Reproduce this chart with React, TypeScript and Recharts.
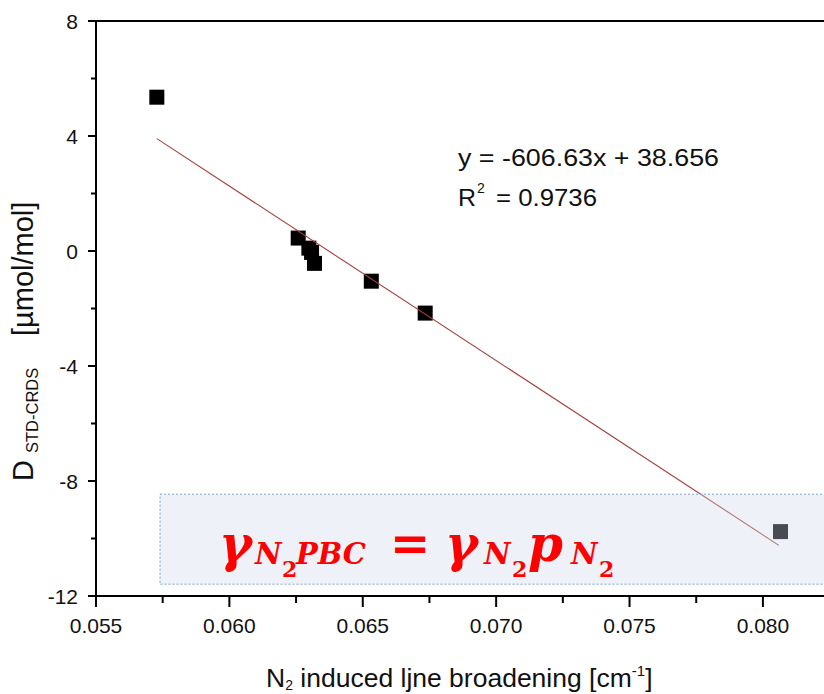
import React from 'react';
import {
  ScatterChart,
  Scatter,
  XAxis,
  YAxis,
  ReferenceArea,
  ReferenceLine,
} from 'recharts';

const SANS = '"Liberation Sans", Arial, sans-serif';
const MATH = '"DejaVu Serif", serif';

// N2 induced line broadening [cm-1] vs D STD-CRDS [umol/mol]
const broadening = [0.05728, 0.06258, 0.06298, 0.06308, 0.06319, 0.06532, 0.06734, 0.08066];
const deviation = [5.35, 0.45, 0.1, -0.05, -0.43, -1.05, -2.16, -9.76];

// linear fit as printed on the chart
const fitSlope = -606.63;
const fitIntercept = 38.656;
const fitX = [0.05728, 0.0806];
const fitText = 'y = -606.63x + 38.656';
const r2Text = '= 0.9736';

const xTicks = [0.055, 0.0575, 0.06, 0.0625, 0.065, 0.0675, 0.07, 0.0725, 0.075, 0.0775, 0.08];
const yTicks = [-12, -10, -8, -6, -4, -2, 0, 2, 4, 6, 8];

const points = broadening.map((x, i) => ({ x, y: deviation[i] }));
const fitLine = fitX.map((x) => ({ x, y: fitSlope * x + fitIntercept }));

const isMajorX = (v: number) => Math.abs(v * 200 - Math.round(v * 200)) < 1e-6;

const XTick = ({ x, y, payload }: any) => {
  const major = isMajorX(payload.value);
  return (
    <g>
      <line x1={x} x2={x} y1={y} y2={y + (major ? 11 : 7)} stroke="#000" strokeWidth={2} />
      {major && (
        <text x={x} y={y + 37} textAnchor="middle" fontFamily={SANS} fontSize={21} fill="#111">
          {payload.value.toFixed(3)}
        </text>
      )}
    </g>
  );
};

const YTick = ({ x, y, payload }: any) => {
  const major = payload.value % 4 === 0;
  return (
    <g>
      <line x1={x - (major ? 8 : 5)} x2={x} y1={y} y2={y} stroke="#000" strokeWidth={2} />
      {major && (
        <text x={x - 18} y={y + 7.5} textAnchor="end" fontFamily={SANS} fontSize={21} fill="#111">
          {payload.value}
        </text>
      )}
    </g>
  );
};

const Square = (props: any) => {
  const { cx, cy } = props;
  if (cx == null || cy == null) return null;
  return <rect x={cx - 7.5} y={cy - 7.5} width={15} height={15} fill="#000" />;
};

const YTitle = () => (
  <g fill="#111" fontFamily={SANS}>
    <text transform="translate(33, 481) rotate(-90)" fontSize={29}>D</text>
    <text transform="translate(38, 453) rotate(-90)" fontSize={16.5}>STD-CRDS</text>
    <text transform="translate(33, 336) rotate(-90)" fontSize={29}>[µmol/mol]</text>
  </g>
);

const XTitle = () => (
  <text x={266} y={687} fontFamily={SANS} fontSize={26.5} fill="#111">
    N
    <tspan fontSize={14} dy={3}>2</tspan>
    <tspan dy={-3}> induced ljne broadening [cm</tspan>
    <tspan fontSize={15} dy={-11}>-1</tspan>
    <tspan dy={11}>]</tspan>
  </text>
);

const FitLabel = () => (
  <g fill="#111" fontFamily={SANS} fontSize={23}>
    <text x={458} y={166} textLength={261} lengthAdjust="spacingAndGlyphs">{fitText}</text>
    <text x={458} y={206} textLength={18} lengthAdjust="spacingAndGlyphs">R</text>
    <text x={477} y={193} fontSize={14}>2</text>
    <text x={496} y={206} textLength={101} lengthAdjust="spacingAndGlyphs">{r2Text}</text>
  </g>
);

const Formula = ({ viewBox }: any) => {
  const ox = viewBox.x - 160;
  const oy = viewBox.y - 494;
  const pieces = [
    { t: 'γ', x: 219, y: 561, s: 50 },
    { t: 'N', x: 255, y: 564, s: 29 },
    { t: '2', x: 282, y: 577, s: 22 },
    { t: 'PBC', x: 296, y: 564, s: 29 },
    { t: '=', x: 390, y: 560, s: 48 },
    { t: 'γ', x: 445, y: 561, s: 50 },
    { t: 'N', x: 484, y: 564, s: 29 },
    { t: '2', x: 512, y: 577, s: 22 },
    { t: 'p', x: 528, y: 561, s: 50 },
    { t: 'N', x: 571, y: 564, s: 29 },
    { t: '2', x: 599, y: 577, s: 22 },
  ];
  return (
    <g fill="#ff0000" fontFamily={MATH} fontWeight="bold">
      {pieces.map((p, i) => (
        <text key={i} x={p.x + ox} y={p.y + oy} fontSize={p.s} fontStyle={p.t === '=' || p.t === '2' ? 'normal' : 'italic'}>
          {p.t}
        </text>
      ))}
    </g>
  );
};

export default function App() {
  return (
    <div style={{ position: 'absolute', left: 0, top: 0, width: 824, height: 694, background: '#fff' }}>
      <ScatterChart width={824} height={694} margin={{ top: 21, right: 0, bottom: 0, left: 0 }}>
        <XAxis
          type="number"
          dataKey="x"
          domain={[0.055, 0.08229]}
          ticks={xTicks}
          allowDataOverflow
          height={98}
          tickSize={0}
          tickMargin={0}
          tickLine={false}
          tick={<XTick />}
          axisLine={{ stroke: '#000', strokeWidth: 2 }}
        />
        <YAxis
          type="number"
          dataKey="y"
          domain={[-12, 8]}
          ticks={yTicks}
          width={96}
          tickSize={0}
          tickMargin={0}
          tickLine={false}
          tick={<YTick />}
          axisLine={{ stroke: '#000', strokeWidth: 2 }}
        />
        <ReferenceLine y={8} stroke="#000" strokeWidth={2} />
        <Scatter data={points} shape={<Square />} isAnimationActive={false} />
        <Scatter
          data={fitLine}
          line={{ stroke: '#a5403c', strokeWidth: 1.1 }}
          shape={() => null}
          isAnimationActive={false}
        />
        <ReferenceArea
          x1={0.0574}
          x2={0.0835}
          y1={-11.59}
          y2={-8.46}
          ifOverflow="hidden"
          fill="rgb(207,217,236)"
          fillOpacity={0.35}
          stroke="#7fa3d0"
          strokeDasharray="2 2"
          strokeWidth={1}
          zIndex={1500}
          label={<Formula />}
        />
        <g>
          <FitLabel />
          <YTitle />
          <XTitle />
        </g>
      </ScatterChart>
    </div>
  );
}
